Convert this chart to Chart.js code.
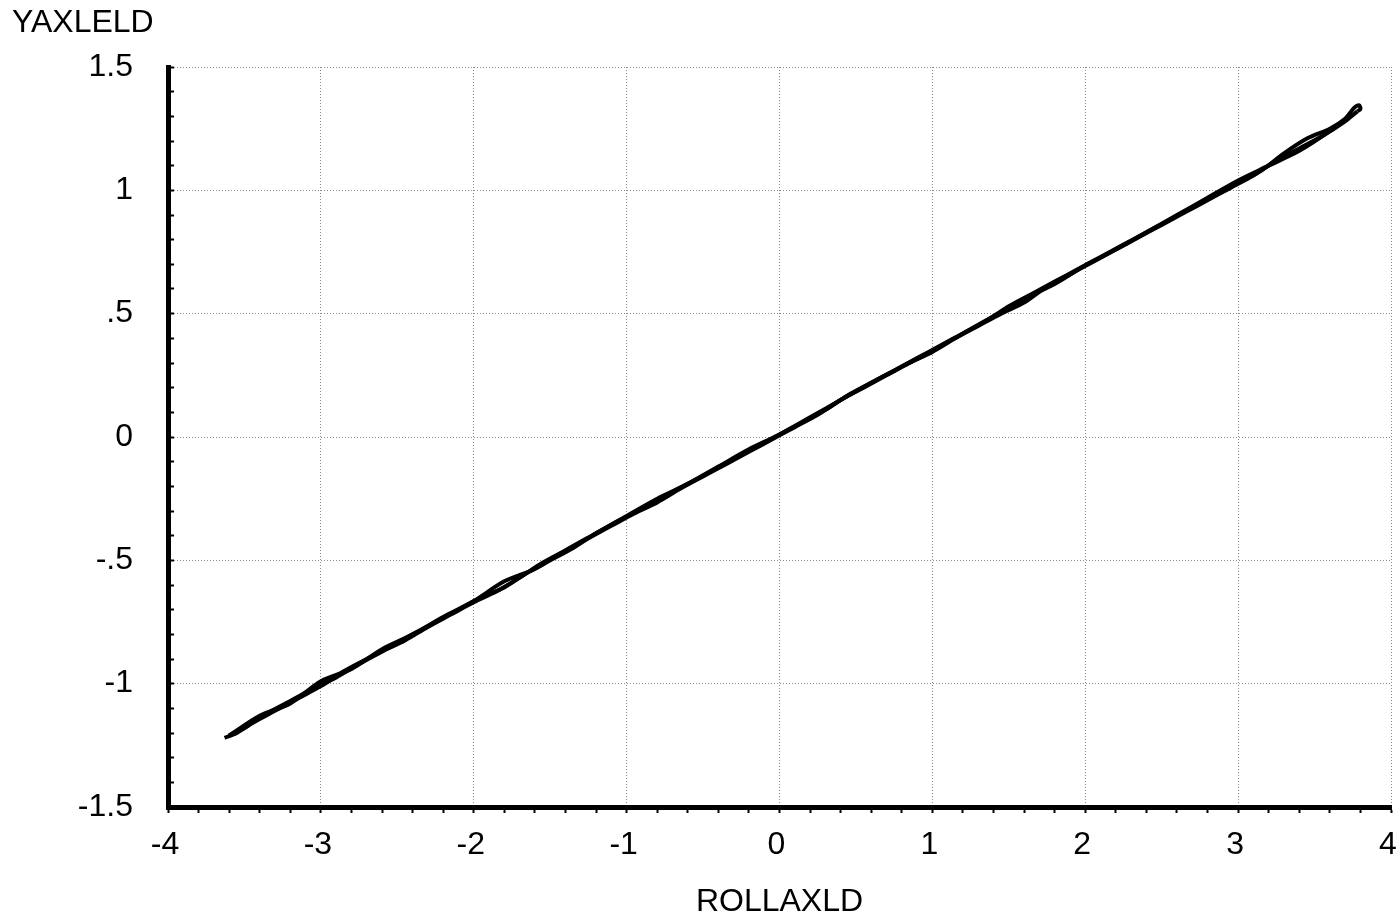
<!DOCTYPE html>
<html>
<head>
<meta charset="utf-8">
<script src="https://cdn.jsdelivr.net/npm/chart.js@4/dist/chart.umd.min.js"></script>
<style>
  html, body { margin: 0; padding: 0; background: #fff; }
  #c { display: block; }
</style>
</head>
<body>
<canvas id="c" width="1397" height="918"></canvas>
<script>
// ---- data ----
const xAxisTitle = "ROLLAXLD";
const yAxisTitle = "YAXLELD";
const xTickLabels = {"-4":"-4","-3":"-3","-2":"-2","-1":"-1","0":"0","1":"1","2":"2","3":"3","4":"4"};
const yTickLabels = {"15":"1.5","10":"1","5":".5","0":"0","-5":"-.5","-10":"-1","-15":"-1.5"};

// first upward pass
const upX = [-3.63,-3.55,-3.45,-3.3,-3.15,-3.0,-2.85,-2.7,-2.55,-2.4,-2.25,-2.1,-1.95,-1.8,-1.65,-1.5,-1.35,-1.2,-1.05,-0.9,-0.75,-0.6,-0.45,-0.3,-0.15,0,0.15,0.3,0.45,0.6,0.75,0.9,1.05,1.2,1.35,1.5,1.65,1.8,1.95,2.1,2.25,2.4,2.55,2.7,2.85,3.0,3.15,3.3,3.45,3.6,3.7,3.76,3.79,3.8,3.78];
const upY = [-1.22,-1.20,-1.16,-1.11,-1.06,-1.01,-0.95,-0.90,-0.85,-0.80,-0.75,-0.70,-0.65,-0.61,-0.55,-0.50,-0.45,-0.39,-0.34,-0.29,-0.24,-0.19,-0.14,-0.09,-0.04,0.01,0.06,0.11,0.17,0.22,0.27,0.32,0.37,0.42,0.47,0.53,0.58,0.63,0.68,0.73,0.78,0.83,0.88,0.93,0.98,1.03,1.08,1.15,1.21,1.25,1.29,1.335,1.345,1.33,1.32];
// downward pass
const downX = [3.78,3.7,3.55,3.4,3.25,3.1,2.95,2.8,2.65,2.5,2.35,2.2,2.05,1.9,1.75,1.6,1.45,1.3,1.15,1.0,0.85,0.7,0.55,0.4,0.25,0.1,-0.05,-0.2,-0.35,-0.5,-0.65,-0.8,-0.95,-1.1,-1.25,-1.4,-1.55,-1.7,-1.85,-2.0,-2.15,-2.3,-2.45,-2.6,-2.75,-2.9,-3.05,-3.2,-3.35,-3.5,-3.6];
const downY = [1.32,1.28,1.22,1.17,1.12,1.06,1.01,0.96,0.91,0.86,0.81,0.76,0.71,0.66,0.61,0.545,0.50,0.45,0.40,0.345,0.30,0.25,0.20,0.15,0.09,0.04,-0.01,-0.06,-0.11,-0.16,-0.21,-0.265,-0.31,-0.36,-0.41,-0.46,-0.51,-0.57,-0.625,-0.67,-0.72,-0.77,-0.825,-0.87,-0.92,-0.975,-1.02,-1.07,-1.12,-1.18,-1.21];
// second upward pass
const up2X = [-3.6,-3.4,-3.2,-3.0,-2.8,-2.6,-2.4,-2.2,-2.0,-1.8,-1.6,-1.4,-1.2,-1.0,-0.8,-0.6,-0.4,-0.2,0,0.2,0.4,0.6,0.8,1.0,1.2,1.4,1.6,1.8,2.0,2.2,2.4,2.6,2.8,3.0,3.2,3.4,3.6,3.75];
const up2Y = [-1.21,-1.13,-1.08,-0.99,-0.94,-0.86,-0.80,-0.73,-0.665,-0.585,-0.535,-0.46,-0.39,-0.32,-0.25,-0.19,-0.12,-0.05,0.01,0.08,0.15,0.22,0.285,0.35,0.42,0.49,0.56,0.62,0.695,0.76,0.83,0.90,0.97,1.04,1.10,1.16,1.24,1.31];

const toPts = (xs, ys) => xs.map((x, i) => ({x, y: ys[i]}));

const FONT = '"Liberation Sans", Arial, Helvetica, sans-serif';
const gridCol = '#8a8a8a';

const isMajorX = v => Math.abs(v - Math.round(v)) < 1e-6;
const isMajorY = v => { const t = Math.round(v * 10); return Math.abs(v*10 - t) < 1e-6 && t % 5 === 0; };

const lineDs = (xs, ys) => ({ data: toPts(xs, ys), showLine: true, borderColor: '#000', borderWidth: 4, pointRadius: 0, tension: 0.3, fill: false });

new Chart(document.getElementById('c'), {
  type: 'scatter',
  data: {
    datasets: [ lineDs(upX, upY), lineDs(downX, downY), lineDs(up2X, up2Y) ]
  },
  options: {
    responsive: false,
    animation: false,
    devicePixelRatio: 1,
    layout: { padding: { left: 12, right: 6, top: 0, bottom: 0 } },
    plugins: {
      legend: { display: false },
      tooltip: { enabled: false },
      title: {
        display: true, text: yAxisTitle, align: 'start', color: '#000',
        font: { family: FONT, size: 32, lineHeight: 1, weight: 'normal' },
        padding: { top: 7, bottom: 28 }
      }
    },
    scales: {
      x: {
        type: 'linear', min: -4, max: 4,
        afterFit: s => { s.height = 111; s.paddingLeft = 0; s.paddingRight = 0; },
        ticks: {
          stepSize: 0.2, autoSkip: false, maxRotation: 0, color: '#000', padding: 13, labelOffset: -3,
          font: { family: FONT, size: 32, lineHeight: 1.2 },
          callback: v => isMajorX(v) ? xTickLabels[String(Math.round(v))] : ''
        },
        grid: {
          color: c => isMajorX(c.tick.value) ? gridCol : 'rgba(0,0,0,0)',
          lineWidth: 1, tickLength: 6, tickColor: '#000', tickWidth: 2
        },
        border: { display: true, color: '#000', width: 5, dash: [1, 2] },
        title: {
          display: true, text: xAxisTitle, color: '#000',
          font: { family: FONT, size: 32, lineHeight: 1 },
          padding: { top: 0, bottom: 0 }
        }
      },
      y: {
        type: 'linear', min: -1.5, max: 1.5,
        afterFit: s => { s.width = 156; s.paddingTop = 0; s.paddingBottom = 0; },
        ticks: {
          stepSize: 0.1, autoSkip: false, color: '#000', padding: 41,
          font: { family: FONT, size: 32, lineHeight: 1.2 },
          callback: v => isMajorY(v) ? yTickLabels[String(Math.round(v * 10))] : ''
        },
        grid: {
          color: c => isMajorY(c.tick.value) ? gridCol : 'rgba(0,0,0,0)',
          lineWidth: 1, tickLength: -6, tickColor: '#000', tickWidth: 2
        },
        border: { display: true, color: '#000', width: 5, dash: [1, 2] }
      }
    }
  }
});
</script>
</body>
</html>
